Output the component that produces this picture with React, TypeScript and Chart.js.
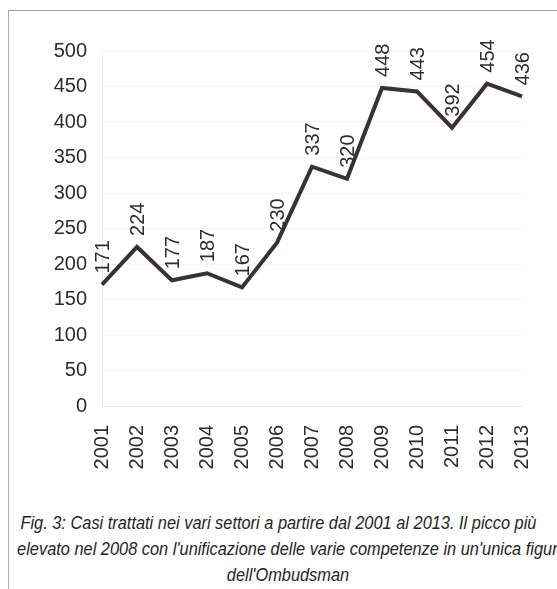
import React, { useEffect, useRef, useState } from "react";
import { Chart, registerables } from "chart.js";

Chart.register(...registerables);

const years = ["2001", "2002", "2003", "2004", "2005", "2006", "2007", "2008", "2009", "2010", "2011", "2012", "2013"];
const cases = [171, 224, 177, 187, 167, 230, 337, 320, 448, 443, 392, 454, 436];
const yTickValues = [0, 50, 100, 150, 200, 250, 300, 350, 400, 450, 500];
const captionLines = [
  "Fig. 3: Casi trattati nei vari settori a partire dal 2001 al 2013. Il picco più",
  "elevato nel 2008 con l'unificazione delle varie competenze in un'unica figura",
  "dell'Ombudsman",
];

const FONT = '"Liberation Sans", Arial, sans-serif';
const CAPTION_FONT = '"Liberation Sans", Arial, sans-serif';
const TEXT_COLOR = "#2f2b30";
const LINE_COLOR = "#3a3038";

const valueLabels = {
  id: "valueLabels",
  afterDatasetsDraw(chart: any) {
    const ctx = chart.ctx;
    const meta = chart.getDatasetMeta(0);
    const data = chart.data.datasets[0].data as number[];
    ctx.save();
    ctx.font = `20px ${FONT}`;
    ctx.fillStyle = TEXT_COLOR;
    ctx.textAlign = "left";
    ctx.textBaseline = "middle";
    meta.data.forEach((pt: any, i: number) => {
      ctx.save();
      ctx.translate(pt.x + 1, pt.y - 11);
      ctx.rotate(-Math.PI / 2);
      ctx.fillText(String(data[i]), 0, 0);
      ctx.restore();
    });
    ctx.restore();
  },
};

export default function App() {
  const ref = useRef<HTMLCanvasElement | null>(null);
  const [scaleK, setScaleK] = useState(0.68);

  useEffect(() => {
    const c = document.createElement("canvas");
    const cx = c.getContext("2d");
    if (cx) {
      cx.font = `italic 19px ${CAPTION_FONT}`;
      const w = cx.measureText(captionLines[0]).width;
      if (w > 0) setScaleK(516 / w);
    }
  }, []);

  useEffect(() => {
    if (!ref.current) return;
    const chart = new Chart(ref.current, {
      type: "line",
      data: {
        labels: years,
        datasets: [
          {
            data: cases,
            borderColor: LINE_COLOR,
            borderWidth: 4,
            tension: 0,
            pointRadius: 0,
            borderJoinStyle: "miter",
            fill: false,
          },
        ],
      },
      options: {
        animation: false,
        responsive: false,
        maintainAspectRatio: false,
        layout: { padding: { left: 0, right: 27, top: 51, bottom: 0 } },
        plugins: { legend: { display: false }, tooltip: { enabled: false }, title: { display: false } },
        scales: {
          x: {
            offset: false,
            grid: { display: false },
            border: { display: true, color: "rgba(0,0,0,0.06)" },
            ticks: {
              font: { family: FONT, size: 20 },
              color: TEXT_COLOR,
              minRotation: 90,
              maxRotation: 90,
              padding: 11,
              autoSkip: false,
            },
            afterFit: (s: any) => {
              s.height = 74;
            },
          },
          y: {
            min: 0,
            max: 500,
            afterBuildTicks: (s: any) => {
              s.ticks = yTickValues.map((v) => ({ value: v }));
            },
            grid: { color: "rgba(0,0,0,0.035)", drawTicks: false },
            border: { display: true, color: "rgba(0,0,0,0.07)" },
            ticks: {
              font: { family: FONT, size: 20 },
              color: TEXT_COLOR,
              padding: 15,
            },
            afterFit: (s: any) => {
              s.width = 102;
            },
          },
        },
      },
      plugins: [valueLabels],
    });
    return () => chart.destroy();
  }, []);

  const shifts = [0, 26, 19];

  return (
    <div style={{ position: "absolute", left: 0, top: 0, width: 557, height: 589, background: "#ffffff", overflow: "hidden" }}>
      <div
        style={{
          position: "absolute",
          left: 8,
          top: 10,
          width: 560,
          height: 600,
          borderTop: "1px solid #9c9c9c",
          borderLeft: "1px solid #b0b0b0",
        }}
      />
      <canvas ref={ref} width={557} height={480} style={{ position: "absolute", left: 0, top: 0, width: 557, height: 480 }} />
      <div
        style={{
          position: "absolute",
          left: 0,
          top: 510,
          width: 557,
          textAlign: "center",
          fontFamily: CAPTION_FONT,
          fontStyle: "italic",
          fontSize: 19,
          lineHeight: "26px",
          color: "#262328",
          whiteSpace: "nowrap",
        }}
      >
        {captionLines.map((l, i) => (
          <div key={i} style={{ width: 557, height: 26, display: "flex", justifyContent: "center" }}>
            <span style={{ display: "inline-block", transform: `scaleX(${scaleK})`, transformOrigin: "center", flex: "none", marginLeft: shifts[i] }}>{l}</span>
          </div>
        ))}
      </div>
    </div>
  );
}
